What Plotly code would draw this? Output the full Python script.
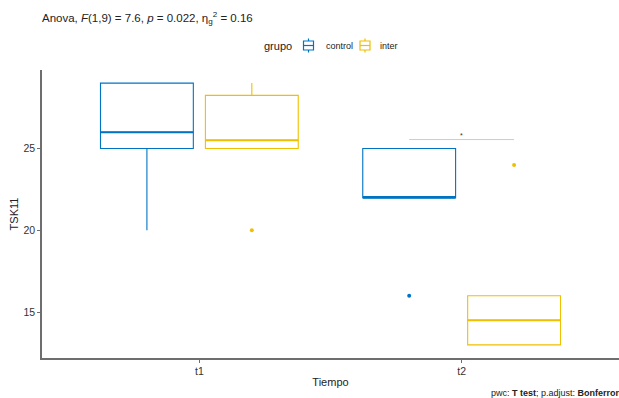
import plotly.graph_objects as go

# Time points and groups
tiempos = ["t1", "t2"]
grupos = ["control", "inter"]
colores = {"control": "#0073C2", "inter": "#EFC000"}

# Box summaries of TSK11 per group, one value per time point
q1 = {"control": [25, 22], "inter": [25, 13]}
mediana = {"control": [26, 22], "inter": [25.5, 14.5]}
q3 = {"control": [29, 25], "inter": [28.25, 16]}
bigote_inf = {"control": [20, 22], "inter": [25, 13]}
bigote_sup = {"control": [29, 25], "inter": [29, 16]}

# Outlying observations: (time index, value)
atipicos = {"control": [(1, 16)], "inter": [(0, 20), (1, 24)]}

# Pairwise comparison at t2
comparacion_t = 1
comparacion_y = 25.55
comparacion_label = "*"

dodge = 0.4          # group offset width
box_w = 0.354        # single box width
offsets = {"control": -dodge / 2, "inter": dodge / 2}

font = "Liberation Sans, Arial, sans-serif"
txt = "#222222"

# Figure geometry (pixels)
W, H = 619, 398
ML, MR, MT, MB = 42, 0, 70, 40
PW, PH = W - ML - MR, H - MT - MB


def px(x):
    return (x - ML) / PW


def py(y):
    return 1 + (MT - y) / PH


fig = go.Figure()

for g in grupos:
    xs = [i + offsets[g] for i in range(len(tiempos))]
    fig.add_trace(go.Box(
        x=xs, q1=q1[g], median=mediana[g], q3=q3[g],
        lowerfence=bigote_inf[g], upperfence=bigote_sup[g],
        width=box_w, whiskerwidth=0, boxpoints=False,
        line=dict(color=colores[g], width=1.1),
        fillcolor="rgba(255,255,255,0)",
        name=g, showlegend=False, hoverinfo="skip",
    ))
    # thicker median segment
    mx, my = [], []
    for x, m in zip(xs, mediana[g]):
        mx += [x - box_w / 2, x + box_w / 2, None]
        my += [m, m, None]
    fig.add_trace(go.Scatter(
        x=mx, y=my, mode="lines", line=dict(color=colores[g], width=2),
        showlegend=False, hoverinfo="skip",
    ))
    # outliers
    if atipicos[g]:
        fig.add_trace(go.Scatter(
            x=[i + offsets[g] for i, _ in atipicos[g]],
            y=[v for _, v in atipicos[g]],
            mode="markers", marker=dict(color=colores[g], size=4),
            showlegend=False, hoverinfo="skip",
        ))

# Significance bracket between the two groups at t2
fig.add_trace(go.Scatter(
    x=[comparacion_t + offsets["control"], comparacion_t + offsets["inter"]],
    y=[comparacion_y, comparacion_y],
    mode="lines", line=dict(color="#cccccc", width=1),
    showlegend=False, hoverinfo="skip",
))
fig.add_annotation(
    x=comparacion_t, y=comparacion_y, text=comparacion_label,
    showarrow=False, yanchor="bottom", yshift=-1,
    font=dict(family=font, size=7, color="#333333"),
)

# Legend: title, box-shaped keys and labels above the panel
leg_y = 45.5
fig.add_annotation(
    xref="paper", yref="paper", x=px(294), y=py(leg_y), xanchor="right",
    yanchor="middle", showarrow=False, text="grupo",
    font=dict(family=font, size=11, color=txt),
)
key_cx = {"control": 308.5, "inter": 365}
label_x = {"control": 324, "inter": 378}
for g in grupos:
    c = key_cx[g]
    line = dict(color=colores[g], width=1.2)
    fig.add_shape(type="rect", xref="paper", yref="paper",
                  x0=px(c - 5), x1=px(c + 5), y0=py(50), y1=py(41), line=line)
    fig.add_shape(type="line", xref="paper", yref="paper",
                  x0=px(c - 5), x1=px(c + 5), y0=py(45.5), y1=py(45.5), line=line)
    fig.add_shape(type="line", xref="paper", yref="paper",
                  x0=px(c), x1=px(c), y0=py(38.5), y1=py(41), line=line)
    fig.add_shape(type="line", xref="paper", yref="paper",
                  x0=px(c), x1=px(c), y0=py(50), y1=py(52.5), line=line)
    fig.add_annotation(
        xref="paper", yref="paper", x=px(label_x[g]), y=py(leg_y),
        xanchor="left", yanchor="middle", showarrow=False, text=g,
        font=dict(family=font, size=9, color=txt),
    )

axis_common = dict(
    showline=True, linecolor="#6e6e6e", linewidth=1.5,
    ticks="outside", ticklen=3, tickcolor="#6e6e6e", tickwidth=1,
    showgrid=False, zeroline=False,
    tickfont=dict(family=font, size=10.5, color="#333333"),
)

fig.update_layout(
    width=W, height=H,
    margin=dict(l=ML, r=MR, t=MT, b=MB),
    paper_bgcolor="white", plot_bgcolor="white",
    boxmode="overlay", showlegend=False,
    font=dict(family=font, color=txt),
    title=dict(
        text="Anova, <i>F</i>(1,9) = 7.6, <i>p</i> = 0.022, η<sub>g</sub><sup>2</sup> = 0.16",
        x=0, xref="paper", xanchor="left", y=0.955, yanchor="middle",
        font=dict(family=font, size=11.5, color=txt),
    ),
    xaxis=dict(
        axis_common, range=[-0.6, 1.6],
        tickvals=list(range(len(tiempos))), ticktext=tiempos,
        title=dict(text="Tiempo", font=dict(family=font, size=11, color=txt), standoff=2),
    ),
    yaxis=dict(
        axis_common, range=[12.2, 29.8], tickvals=[15, 20, 25],
        title=dict(text="TSK11", font=dict(family=font, size=11, color=txt), standoff=3),
    ),
)

fig.add_annotation(
    xref="paper", yref="paper", x=1, y=0, xanchor="right", yanchor="middle",
    yshift=-35, xshift=7, showarrow=False,
    text="pwc: <b>T test</b>; p.adjust: <b>Bonferroni</b>",
    font=dict(family=font, size=9, color=txt),
)

fig.write_html("out.html")
